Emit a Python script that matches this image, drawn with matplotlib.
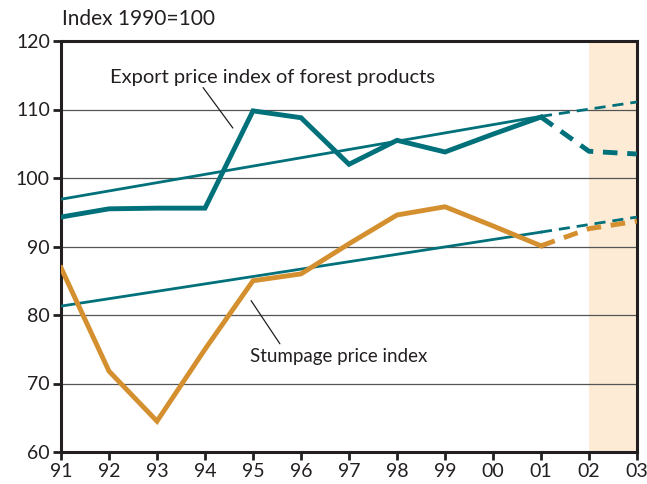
import matplotlib.pyplot as plt
import numpy as np

years = np.arange(13)  # 91 .. 03
year_labels = ['91', '92', '93', '94', '95', '96', '97', '98', '99', '00', '01', '02', '03']

export_actual = [94.3, 95.5, 95.6, 95.6, 109.8, 108.8, 102.0, 105.5, 103.8, 106.4, 108.9]
export_forecast = [108.9, 103.9, 103.5]
stump_actual = [86.9, 71.8, 64.5, 75.0, 85.0, 86.0, 90.4, 94.6, 95.8, 93.0, 90.1]
stump_forecast = [90.1, 92.6, 93.7]
export_trend = [96.9, 109.0, 111.1]   # at 91, 01, 03
stump_trend = [81.3, 92.1, 94.3]

teal = '#00707a'
orange = '#d48f2e'
ink = '#231f20'

plt.rcParams['font.family'] = ['Lato', 'DejaVu Sans']

fig = plt.figure(figsize=(6.47, 4.84), dpi=100)
ax = fig.add_axes([61/647, 1 - 452/484, 576/647, 411/484])

ax.axvspan(11, 12, color='#fdebd6', lw=0, zorder=0)
for v in [70, 80, 90, 100, 110]:
    ax.axhline(v, color='#555555', lw=0.9, zorder=1)

ax.plot([0, 10], export_trend[:2], color=teal, lw=2, zorder=3)
ax.plot([10, 12], export_trend[1:], color=teal, lw=2, ls=(0, (4, 2.5)), zorder=3)
ax.plot([0, 10], stump_trend[:2], color=teal, lw=2, zorder=3)
ax.plot([10, 12], stump_trend[1:], color=teal, lw=2, ls=(0, (4, 2.5)), zorder=3)

ax.plot(years[:11], export_actual, color=teal, lw=3.5, zorder=4, solid_joinstyle='miter')
ax.plot(years[10:], export_forecast, color=teal, lw=3.5, ls=(0, (3, 2)), zorder=4)
ax.plot(years[:11], stump_actual, color=orange, lw=3.5, zorder=4, solid_joinstyle='miter')
ax.plot(years[10:], stump_forecast, color=orange, lw=3.5, ls=(0, (3, 2)), zorder=4)

ax.set_xlim(0, 12)
ax.set_ylim(60, 120)
ax.set_xticks(years)
ax.set_xticklabels(year_labels)
ax.set_yticks(range(60, 121, 10))
for s in ax.spines.values():
    s.set_linewidth(2.2)
    s.set_color(ink)
ax.tick_params(direction='out', length=6, width=2, labelsize=14, colors=ink, pad=2)

# labels with leader lines
ax.text(4.40, 114.7, 'Export price index of forest products', fontsize=14.5,
        ha='center', va='center', color=ink)
ax.annotate('', xy=(3.58, 107.3), xytext=(2.96, 113.2),
            arrowprops=dict(arrowstyle='-', color=ink, lw=0.9, shrinkA=0, shrinkB=0))
ax.text(5.79, 73.9, 'Stumpage price index', fontsize=13.5,
        ha='center', va='center', color=ink)
ax.annotate('', xy=(4.56, 75.8), xytext=(3.96, 82.1),
            arrowprops=dict(arrowstyle='-', color=ink, lw=0.9, shrinkA=0, shrinkB=0))

fig.text(62/647, 1 - 19/484, 'Index 1990=100', fontsize=15, ha='left', va='center', color=ink)

fig.savefig('out.png', dpi=100)
